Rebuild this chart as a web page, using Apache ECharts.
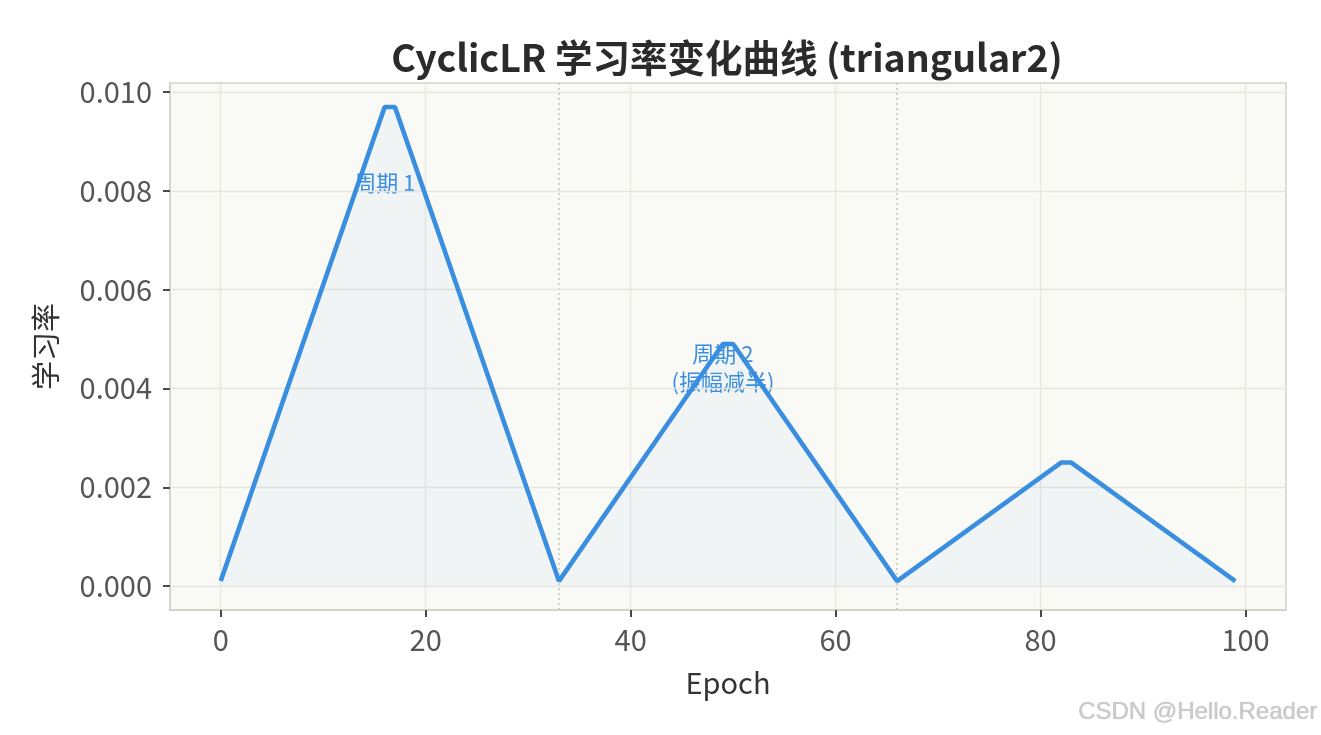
<!DOCTYPE html>
<html>
<head>
<meta charset="utf-8">
<style>html,body{margin:0;padding:0;background:#fff;}#c{width:1321px;height:735px;}</style>
<script src="https://cdn.jsdelivr.net/npm/echarts@6/dist/echarts.min.js"></script>
</head>
<body>
<div id="c"></div>
<script>
// vertices of the learning-rate curve (piecewise linear)
var epochs = [0, 16, 17, 33, 49, 50, 66, 82, 83, 99];
var lrValues = [0.0001, 0.0097, 0.0097, 0.0001, 0.0049, 0.0049, 0.0001, 0.0025, 0.0025, 0.0001];
var xTicks = [0, 20, 40, 60, 80, 100];
var yTicks = [0, 0.002, 0.004, 0.006, 0.008, 0.010];
var cycleBounds = [33, 66];
var notes = [
  {x: 16, y: 0.00817, text: '周期 1'},
  {x: 49, y: 0.00443, text: '周期 2\n(振幅减半)'}
];
var titleText = 'CyclicLR 学习率变化曲线 (triangular2)';

var FONT = '"Noto Sans CJK SC", "Noto Sans", sans-serif';
var chart = echarts.init(document.getElementById('c'), null, {renderer: 'canvas'});
var data = epochs.map(function (e, i) { return [e, lrValues[i]]; });

chart.setOption({
  animation: false,
  backgroundColor: '#ffffff',
  textStyle: {fontFamily: FONT},
  grid: {left: 170, right: 35, top: 83, bottom: 125, show: true, z: 0,
         backgroundColor: '#f9f9f6', borderColor: '#d3d2c9', borderWidth: 1.5},
  xAxis: {
    type: 'value', min: -4.95, max: 103.95, z: 10,
    name: 'Epoch', nameLocation: 'middle', nameGap: 58,
    nameTextStyle: {fontSize: 29, color: '#333333', fontFamily: FONT},
    axisLine: {show: true, onZero: false, lineStyle: {color: '#d3d2c9', width: 1.5}},
    axisTick: {show: true, inside: false, customValues: xTicks, length: 7, lineStyle: {color: '#4a4a4a', width: 2}},
    axisLabel: {customValues: xTicks, fontSize: 29, color: '#555555', margin: 15, fontFamily: FONT},
    splitLine: {show: true, lineStyle: {color: '#e6e6df', width: 1.3}}
  },
  yAxis: {
    type: 'value', min: -0.000485, max: 0.010185, z: 10,
    name: '学习率', nameLocation: 'middle', nameGap: 110, nameRotate: 90,
    nameTextStyle: {fontSize: 29, color: '#333333', fontFamily: FONT},
    axisLine: {show: true, onZero: false, lineStyle: {color: '#d3d2c9', width: 1.5}},
    axisTick: {show: true, inside: false, customValues: yTicks, length: 7, lineStyle: {color: '#4a4a4a', width: 2}},
    axisLabel: {customValues: yTicks, fontSize: 29, color: '#555555', margin: 18, fontFamily: FONT,
      formatter: function (v) { return v.toFixed(3); }},
    splitLine: {show: true, lineStyle: {color: '#e6e6df', width: 1.3}}
  },
  graphic: [
    {type: 'text', x: 727, y: 58, style: {text: titleText, fill: '#2b2b2b',
      font: 'bold 37.5px ' + FONT, textAlign: 'center', textVerticalAlign: 'middle'}},
    {type: 'text', x: 1317, y: 712, style: {text: 'CSDN @Hello.Reader', fill: '#cbcbcb',
      font: '24px "Liberation Sans", Arial, sans-serif', textAlign: 'right', textVerticalAlign: 'middle',
      textShadowColor: 'rgba(0,0,0,0.25)', textShadowBlur: 1, textShadowOffsetX: 0.5, textShadowOffsetY: 0.5}}
  ],
  series: [{
    type: 'line', data: data, symbol: 'none', z: 20,
    lineStyle: {color: '#3a8ee0', width: 4.6},
    areaStyle: {color: 'rgba(58,142,224,0.065)', origin: 0},
    markLine: {
      silent: true, symbol: 'none', label: {show: false},
      lineStyle: {color: '#c4c4c4', type: [2, 3], width: 1.5},
      data: cycleBounds.map(function (b) { return {xAxis: b}; })
    },
    markPoint: {
      silent: true, symbol: 'circle', symbolSize: 0,
      label: {show: true, position: 'inside', color: '#3a8ee0', fontSize: 22, lineHeight: 28, fontFamily: FONT,
        formatter: function (p) { return p.name; }},
      data: notes.map(function (n) { return {coord: [n.x, n.y], name: n.text}; })
    }
  }]
});
</script>
</body>
</html>
